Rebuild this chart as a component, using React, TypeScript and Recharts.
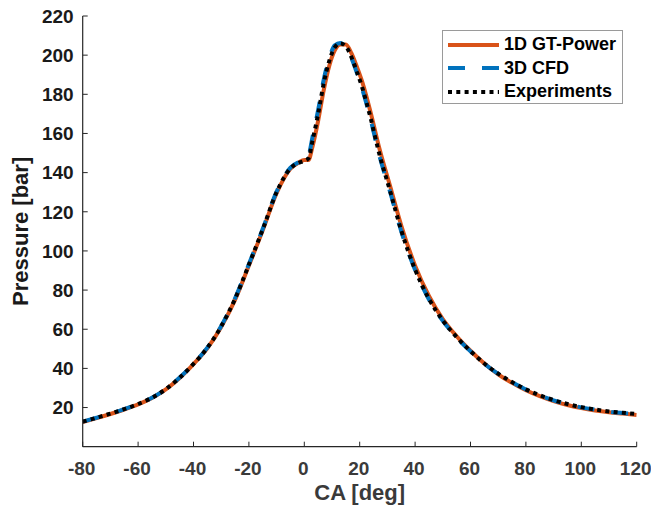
import React from 'react';
import { LineChart, Line, XAxis, YAxis, Legend, Label } from 'recharts';

const crankAngle = [-80, -75, -70, -65, -60, -55, -50, -45, -40, -35, -30, -25, -20, -15, -10, -5, -2, 0, 1.5, 3, 5, 7, 9, 11, 13, 15, 17, 19, 21, 24, 27, 31, 35, 40, 45, 50, 55, 60, 65, 70, 75, 80, 85, 90, 95, 100, 105, 110, 115, 120];

const gtPower = [12.6, 14.6, 16.7, 19.0, 21.6, 24.9, 29.3, 35.1, 42.2, 50.3, 61.2, 75.0, 92.5, 110.5, 129.5, 142.0, 145.2, 146.5, 146.5, 153.5, 166.5, 182.0, 194.5, 202.5, 205.5, 205.5, 201.0, 194.0, 186.0, 170.5, 153.0, 133.0, 113.0, 92.5, 77.0, 65.2, 56.4, 49.0, 42.5, 37.0, 32.6, 28.8, 25.8, 23.3, 21.3, 19.7, 18.5, 17.6, 16.9, 16.2];

const cfd3d = [12.8, 14.8, 16.9, 19.2, 21.8, 25.0, 29.4, 35.3, 42.4, 50.6, 61.7, 75.8, 93.3, 111.3, 130.3, 142.5, 145.3, 146.2, 148.5, 158.5, 172.0, 187.5, 198.5, 205.0, 206.2, 204.2, 198.5, 190.8, 182.2, 166.8, 149.2, 130.0, 110.0, 90.2, 75.2, 64.3, 55.8, 48.7, 42.4, 37.2, 32.9, 29.2, 26.2, 23.7, 21.7, 20.1, 18.9, 17.9, 17.2, 16.6];

const experiments = [12.8, 14.8, 16.9, 19.2, 21.8, 25.0, 29.4, 35.2, 42.3, 50.5, 61.5, 75.5, 93.0, 111.0, 130.0, 142.2, 145.0, 146.0, 147.3, 156.5, 170.0, 185.5, 197.0, 204.0, 206.0, 204.5, 199.0, 191.5, 183.0, 167.5, 150.0, 130.5, 110.5, 90.5, 75.5, 64.5, 56.0, 48.8, 42.5, 37.3, 33.0, 29.3, 26.3, 23.8, 21.8, 20.2, 19.0, 18.0, 17.3, 16.7];

const xTicks = [-80, -60, -40, -20, 0, 20, 40, 60, 80, 100, 120];
const yTicks = [20, 40, 60, 80, 100, 120, 140, 160, 180, 200, 220];

const seriesNames = { gt: '1D GT-Power', cfd: '3D CFD', exp: 'Experiments' };

const data = crankAngle.map((ca, i) => ({
  ca,
  gt: gtPower[i],
  cfd: cfd3d[i],
  exp: experiments[i],
}));

const FONT = "'Liberation Sans', Arial, Helvetica, sans-serif";
const AXIS = '#262626';
const TICK_LEN = 5;
const X_MARGIN = 15;
const Y_MARGIN = 9;

const styles: Record<string, { color: string; dash?: string }> = {
  gt: { color: '#D95319' },
  cfd: { color: '#0072BD', dash: '17 17' },
  exp: { color: '#000000', dash: '4 4.3' },
};

function BottomTick(props: any) {
  const { x, y, payload } = props;
  const axisY = y - X_MARGIN;
  return (
    <g>
      <line x1={x} x2={x} y1={axisY} y2={axisY - TICK_LEN} stroke={AXIS} strokeWidth={1} />
      <text x={x} y={y} dx={-1} dy="0.71em" textAnchor="middle" fontFamily={FONT} fontWeight={700} fontSize={19} fill="#3a3a3a">
        {payload.value}
      </text>
    </g>
  );
}

function LeftTick(props: any) {
  const { x, y, payload } = props;
  const axisX = x + Y_MARGIN;
  return (
    <g>
      <line x1={axisX} x2={axisX + TICK_LEN} y1={y} y2={y} stroke={AXIS} strokeWidth={1} />
      <text x={x} y={y} dy="0.36em" textAnchor="end" fontFamily={FONT} fontWeight={700} fontSize={19} fill="#1a1a1a">
        {payload.value}
      </text>
    </g>
  );
}

function TopTick(props: any) {
  const { x, y } = props;
  return <line x1={x} x2={x} y1={y} y2={y + TICK_LEN} stroke={AXIS} strokeWidth={1} />;
}

function RightTick(props: any) {
  const { x, y } = props;
  return <line x1={x} x2={x - TICK_LEN} y1={y} y2={y} stroke={AXIS} strokeWidth={1} />;
}

function LegendBox(props: any) {
  const payload = props.payload || [];
  return (
    <div
      style={{
        width: 181,
        height: 74,
        border: '1px solid #9a9a9a',
        background: '#fff',
        boxSizing: 'border-box',
        paddingTop: 2,
        fontFamily: FONT,
        fontWeight: 700,
        fontSize: 18,
        color: '#000',
      }}
    >
      {payload.map((entry: any) => {
        const st = styles[entry.dataKey as string];
        return (
          <div key={entry.dataKey} style={{ display: 'flex', alignItems: 'center', height: 23.5 }}>
            <svg width={60} height={10} style={{ flex: 'none' }}>
              <line x1={5} x2={56} y1={5} y2={5} stroke={st.color} strokeWidth={4} strokeDasharray={st.dash} />
            </svg>
            <span style={{ marginLeft: 1, whiteSpace: 'nowrap' }}>{entry.value}</span>
          </div>
        );
      })}
    </div>
  );
}

export default function App() {
  return (
    <div style={{ position: 'fixed', left: 0, top: 0, width: 651, height: 511, background: '#fff' }}>
      <LineChart
        width={651}
        height={511}
        data={data}
        margin={{ top: 16, right: 14.3, bottom: 28.3, left: 22.7 }}
      >
        <XAxis
          dataKey="ca"
          type="number"
          domain={[-80, 120]}
          ticks={xTicks}
          allowDataOverflow
          interval={0}
          height={36}
          tickSize={0}
          tickMargin={X_MARGIN}
          tickLine={false}
          tick={<BottomTick />}
          axisLine={{ stroke: AXIS, strokeWidth: 1.2 }}
        >
          <Label
            value="CA [deg]"
            position="bottom"
            offset={2}
            style={{ fontFamily: FONT, fontWeight: 700, fontSize: 22, fill: '#3a3a3a' }}
          />
        </XAxis>
        <XAxis
          xAxisId="top"
          orientation="top"
          dataKey="ca"
          type="number"
          domain={[-80, 120]}
          ticks={xTicks}
          allowDataOverflow
          interval={0}
          height={0}
          tickSize={0}
          tickMargin={0}
          tickLine={false}
          tick={<TopTick />}
          axisLine={{ stroke: AXIS, strokeWidth: 1.2 }}
        />
        <YAxis
          type="number"
          domain={[0, 220]}
          ticks={yTicks}
          allowDataOverflow
          interval={0}
          width={60}
          tickSize={0}
          tickMargin={Y_MARGIN}
          tickLine={false}
          tick={<LeftTick />}
          axisLine={{ stroke: AXIS, strokeWidth: 1.2 }}
        >
          <Label
            value="Pressure [bar]"
            angle={-90}
            position="insideLeft"
            offset={-3}
            style={{ fontFamily: FONT, fontWeight: 700, fontSize: 22, fill: '#1a1a1a', textAnchor: 'middle' }}
          />
        </YAxis>
        <YAxis
          yAxisId="right"
          orientation="right"
          type="number"
          domain={[0, 220]}
          ticks={yTicks}
          allowDataOverflow
          interval={0}
          width={0}
          tickSize={0}
          tickMargin={0}
          tickLine={false}
          tick={<RightTick />}
          axisLine={{ stroke: AXIS, strokeWidth: 1.2 }}
        />
        <Line
          dataKey="gt"
          name={seriesNames.gt}
          type="monotone"
          stroke={styles.gt.color}
          strokeWidth={4}
          dot={false}
          activeDot={false}
          isAnimationActive={false}
        />
        <Line
          dataKey="cfd"
          name={seriesNames.cfd}
          type="monotone"
          stroke={styles.cfd.color}
          strokeWidth={4}
          strokeDasharray={styles.cfd.dash}
          dot={false}
          activeDot={false}
          isAnimationActive={false}
        />
        <Line
          dataKey="exp"
          name={seriesNames.exp}
          type="monotone"
          stroke={styles.exp.color}
          strokeWidth={4}
          strokeDasharray={styles.exp.dash}
          dot={false}
          activeDot={false}
          isAnimationActive={false}
        />
        <Legend
          layout="vertical"
          align="center"
          verticalAlign="middle"
          content={<LegendBox />}
          wrapperStyle={{ position: 'absolute', left: 442, top: 30, width: 181, height: 74 }}
        />
      </LineChart>
    </div>
  );
}
